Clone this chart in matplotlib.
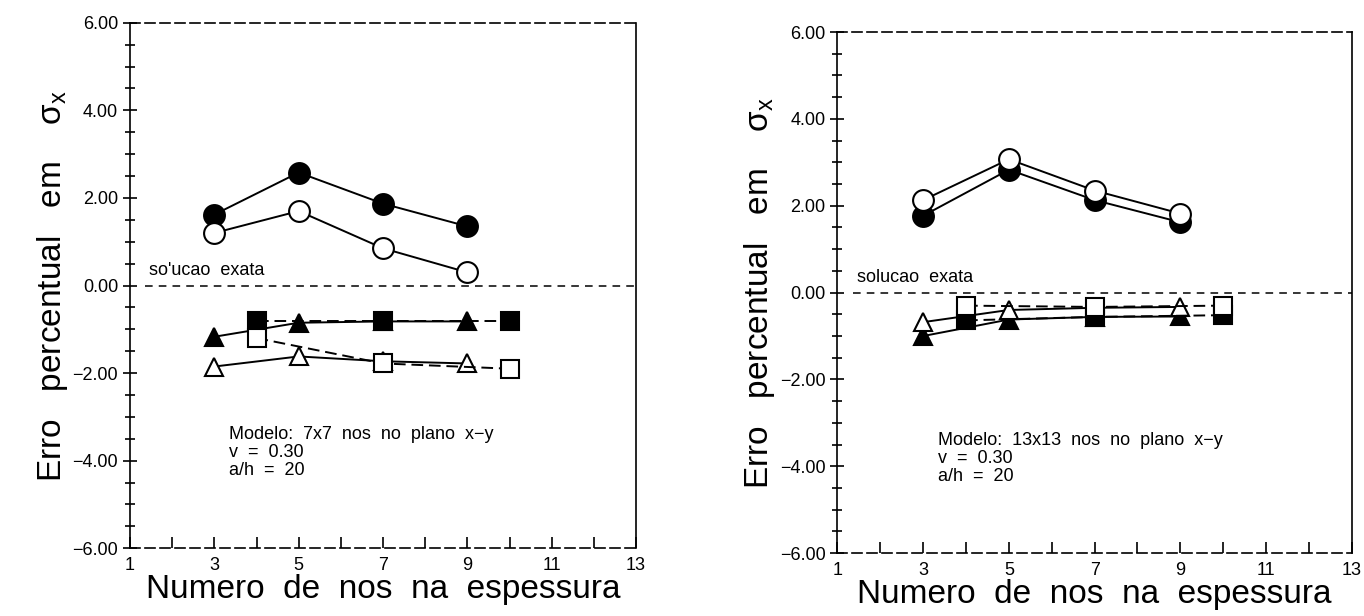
import matplotlib
matplotlib.use("Agg")
import matplotlib.pyplot as plt
from matplotlib.ticker import MultipleLocator

plt.rcParams['font.family'] = ['Liberation Sans', 'DejaVu Sans']

# x positions
x_tri = [3, 5, 7, 9]
x_sq = [4, 7, 10]

# Left panel (7x7)
L_circ_filled = [1.62, 2.58, 1.87, 1.35]
L_circ_open = [1.20, 1.70, 0.85, 0.30]
L_tri_filled = [-1.17, -0.85, -0.82, -0.82]
L_tri_open = [-1.85, -1.62, -1.73, -1.78]
L_sq_filled = [-0.80, -0.80, -0.80]
L_sq_open = [-1.20, -1.78, -1.90]

# Right panel (13x13)
R_circ_filled = [1.77, 2.83, 2.13, 1.62]
R_circ_open = [2.13, 3.07, 2.35, 1.82]
R_tri_filled = [-1.00, -0.62, -0.56, -0.55]
R_tri_open = [-0.68, -0.40, -0.35, -0.33]
R_sq_filled = [-0.64, -0.56, -0.52]
R_sq_open = [-0.30, -0.33, -0.30]

xticks = [1, 3, 5, 7, 9, 11, 13]
yticks = [-6, -4, -2, 0, 2, 4, 6]

fig = plt.figure(figsize=(13.64, 6.16), dpi=100)
ax1 = fig.add_axes([0.0953, 0.110, 0.371, 0.853])
ax2 = fig.add_axes([0.614, 0.102, 0.377, 0.846])

def draw(ax, cf, co, tf, to, sf, so, label_exact, modelo):
    ax.set_xlim(1, 13)
    ax.set_ylim(-6, 6)
    k = dict(color='black', lw=1.4, mec='black', mew=1.5)
    ax.plot(x_tri, cf, marker='o', ms=15, mfc='black', ls='-', **k, zorder=3)
    ax.plot(x_tri, co, marker='o', ms=15, mfc='white', ls='-', **k, zorder=3)
    ax.plot(x_tri, tf, marker='^', ms=13, mfc='black', ls='-', **k, zorder=3)
    ax.plot(x_tri, to, marker='^', ms=13, mfc='white', ls='-', **k, zorder=3)
    ax.plot(x_sq, sf, marker='s', ms=13, mfc='black', ls=(0, (6, 3)), **k, zorder=3)
    ax.plot(x_sq, so, marker='s', ms=13, mfc='white', ls=(0, (6, 3)), **k, zorder=3)
    ax.axhline(0, xmin=0.03, xmax=1.0, color='black', ls=(0, (5, 4)), lw=1.1)
    ax.text(1.45, 0.15, label_exact, fontsize=13, ha='left', va='bottom')
    ax.text(3.35, -3.2, modelo + "\nv  =  0.30\na/h  =  20", fontsize=13,
            ha='left', va='top', linespacing=1.1)
    ax.set_xticks(xticks)
    ax.set_xticklabels([str(v) for v in xticks], fontsize=13)
    ax.xaxis.set_minor_locator(MultipleLocator(1))
    ax.set_yticks(yticks)
    ax.set_yticklabels(["%.2f" % v if v >= 0 else "\u2212%.2f" % (-v) for v in yticks], fontsize=13)
    ax.yaxis.set_minor_locator(MultipleLocator(0.5))
    ax.tick_params(axis='y', which='both', direction='inout', length=10, width=1.2, right=False)
    ax.tick_params(axis='y', which='minor', length=7)
    ax.tick_params(axis='x', which='both', direction='in', length=8, width=1.2, top=False, pad=6)
    ax.spines['top'].set_linestyle((0, (6, 3)))
    ax.spines['bottom'].set_linestyle((0, (6, 3)))
    for s in ax.spines.values():
        s.set_linewidth(1.2)
    ax.set_xlabel("Numero  de  nos  na  espessura", fontsize=24, labelpad=0)
    ax.set_ylabel(r"Erro   percentual   em    $\mathregular{\sigma}_{\mathregular{x}}$",
                  fontsize=24, labelpad=2)

draw(ax1, L_circ_filled, L_circ_open, L_tri_filled, L_tri_open, L_sq_filled, L_sq_open,
     "so'ucao  exata", "Modelo:  7x7  nos  no  plano  x\u2212y")
draw(ax2, R_circ_filled, R_circ_open, R_tri_filled, R_tri_open, R_sq_filled, R_sq_open,
     "solucao  exata", "Modelo:  13x13  nos  no  plano  x\u2212y")

fig.savefig("out.png", dpi=100)
